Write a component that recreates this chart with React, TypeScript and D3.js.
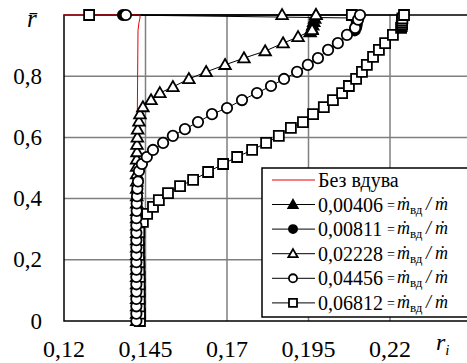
import React from "react";
import * as d3 from "d3";

// без вдува
const noBlowX = [0.1423, 0.1423, 0.1424, 0.1424, 0.1425, 0.1427, 0.1430, 0.1433, 0.1433, 0.12];
const noBlowR = [0, 0.2, 0.4, 0.6, 0.69, 0.95, 0.975, 0.99, 1.0, 1.0];

// 0,00406 (filled triangles)
const tri1X = [0.1955, 0.196, 0.1963, 0.1966, 0.1969, 0.1973];
const tri1R = [0.944, 0.955, 0.966, 0.977, 0.988, 1.0];

// 0,00811 (filled circles)
const circ1X = [0.2092, 0.2096, 0.2098, 0.2098, 0.2096, 0.1381];
const circ1R = [0.95, 0.96, 0.97, 0.98, 0.99, 1.0];

// 0,02228 (open triangles)
const tri2X = [
  0.1423, 0.1423, 0.1423, 0.1423, 0.1423, 0.1423, 0.1423, 0.1423, 0.1423, 0.1423,
  0.1423, 0.1423, 0.1423, 0.1423, 0.1423, 0.1423, 0.1423, 0.1423, 0.1423, 0.1423,
  0.1423, 0.1423, 0.1423, 0.1424, 0.1424, 0.1425, 0.1426, 0.143, 0.1433, 0.1442,
  0.1467, 0.1494, 0.1534, 0.1583, 0.1636, 0.1694, 0.1752, 0.1817, 0.1872, 0.1918,
  0.1961, 0.1973, 0.1869,
];
const tri2R = [
  0, 0.024, 0.048, 0.072, 0.096, 0.12, 0.144, 0.168, 0.192, 0.216,
  0.24, 0.264, 0.288, 0.312, 0.336, 0.36, 0.384, 0.408, 0.432, 0.456,
  0.48, 0.504, 0.528, 0.552, 0.576, 0.6, 0.626, 0.652, 0.676, 0.699,
  0.722, 0.745, 0.765, 0.791, 0.814, 0.837, 0.859, 0.882, 0.908, 0.928,
  0.951, 1.0, 1.0,
];

// 0,04456 (open circles)
const circ2X = [
  0.1422, 0.1422, 0.1422, 0.1422, 0.1422, 0.1422, 0.1422, 0.1422, 0.1422, 0.1422,
  0.1422, 0.1422, 0.1422, 0.1422, 0.1422, 0.1423, 0.1423, 0.1424, 0.1425, 0.1427,
  0.143, 0.1439, 0.1454, 0.1473, 0.1504, 0.1534, 0.1571, 0.1611, 0.1654, 0.17,
  0.1746, 0.1792, 0.1835, 0.1875, 0.1915, 0.1948, 0.1979, 0.201, 0.204, 0.2068,
  0.2093, 0.2102, 0.2108, 0.139,
];
const circ2R = [
  0, 0.024, 0.048, 0.072, 0.096, 0.12, 0.144, 0.168, 0.192, 0.216,
  0.24, 0.264, 0.288, 0.312, 0.336, 0.36, 0.384, 0.408, 0.432, 0.456,
  0.49, 0.513, 0.536, 0.559, 0.582, 0.605, 0.627, 0.65, 0.676, 0.696,
  0.722, 0.745, 0.768, 0.791, 0.814, 0.837, 0.859, 0.886, 0.908, 0.935,
  0.958, 0.985, 1.0, 1.0,
];

// 0,06812 (open squares)
const sq2X = [
  0.1433, 0.1433, 0.1432, 0.1432, 0.1432, 0.1432, 0.1432, 0.1431, 0.1431, 0.143,
  0.143, 0.143, 0.1431, 0.1442, 0.1455, 0.1473, 0.1491, 0.1519, 0.1556, 0.1596,
  0.1642, 0.1688, 0.1731, 0.1777, 0.182, 0.1859, 0.1896, 0.1933, 0.1964, 0.1997,
  0.2025, 0.2053, 0.2074, 0.2096, 0.2114, 0.2129, 0.2148, 0.2166, 0.2185, 0.2209,
  0.2234, 0.2236, 0.2237, 0.2237, 0.2237, 0.2238, 0.2243, 0.2083, 0.1277,
];
const sq2R = [
  0, 0.024, 0.048, 0.072, 0.096, 0.12, 0.144, 0.168, 0.192, 0.216,
  0.24, 0.264, 0.29, 0.324, 0.35, 0.373, 0.395, 0.418, 0.441, 0.461,
  0.487, 0.513, 0.536, 0.559, 0.582, 0.605, 0.631, 0.65, 0.676, 0.699,
  0.722, 0.745, 0.768, 0.791, 0.814, 0.837, 0.863, 0.886, 0.908, 0.935,
  0.958, 0.964, 0.970, 0.976, 0.982, 0.989, 1.0, 1.0, 1.0,
];

const xTicks = [0.12, 0.145, 0.17, 0.195, 0.22];
const xTickLabels = ["0,12", "0,145", "0,17", "0,195", "0,22"];
const yTicks = [0, 0.2, 0.4, 0.6, 0.8];
const yTickLabels = ["0", "0,2", "0,4", "0,6", "0,8"];
const legendValues = ["0,00406", "0,00811", "0,02228", "0,04456", "0,06812"];

const font = "Liberation Serif";

const zip = (xs: number[], ys: number[]) => xs.map((x, i) => [x, ys[i]] as [number, number]);

const Marker = ({ kind, x, y, big }: { kind: string; x: number; y: number; big: boolean }) => {
  const filled = kind === "triF" || kind === "circF";
  const shape = kind.startsWith("tri") ? d3.symbolTriangle : kind.startsWith("circ") ? d3.symbolCircle : d3.symbolSquare;
  const size = kind.startsWith("tri") ? (big ? 58 : 38) : kind.startsWith("circ") ? (big ? 85 : 52) : big ? 100 : 64;
  const d = d3.symbol().type(shape).size(size)();
  return (
    <path
      d={d || ""}
      transform={`translate(${x},${y + (kind.startsWith("tri") ? 0.8 : 0)})`}
      fill={filled ? "#000" : "#fff"}
      stroke="#000"
      strokeWidth={1.8}
    />
  );
};

const App = () => {
  const width = 467;
  const height = 363;
  const x = d3.scaleLinear().domain([0.12, 0.245]).range([64, 471.5]);
  const y = d3.scaleLinear().domain([0, 1]).range([321, 15]);
  const line = d3
    .line<[number, number]>()
    .x((d) => x(d[0]))
    .y((d) => y(d[1]));

  const series = [
    { kind: "triF", pts: zip(tri1X, tri1R) },
    { kind: "circF", pts: zip(circ1X, circ1R) },
    { kind: "tri", pts: zip(tri2X, tri2R) },
    { kind: "sq", pts: zip(sq2X, sq2R) },
    { kind: "circ", pts: zip(circ2X, circ2R) },
  ];
  const legendKinds = ["triF", "circF", "tri", "circ", "sq"];

  return (
    <svg width={width} height={height} style={{ position: "absolute", left: 0, top: 0, background: "#fff" }}>
      <rect width={width} height={height} fill="#fff" />
      {xTicks.slice(1).map((t) => (
        <line key={t} x1={x(t)} x2={x(t)} y1={y(0)} y2={y(1)} stroke="#7f7f7f" strokeWidth={1.5} />
      ))}
      {yTicks.slice(1).map((t) => (
        <line key={t} x1={x(0.12)} x2={x(0.245)} y1={y(t)} y2={y(t)} stroke="#7f7f7f" strokeWidth={1.5} />
      ))}
      <rect x={x(0.12)} y={y(1)} width={x(0.245) - x(0.12)} height={y(0) - y(1)} fill="none" stroke="#000" strokeWidth={1.5} />

      {series.map((s) => (
        <path key={s.kind + "l"} d={line(s.pts) || ""} fill="none" stroke="#000" strokeWidth={1} />
      ))}
      <path d={line(zip(noBlowX, noBlowR)) || ""} fill="none" stroke="#e8000b" strokeWidth={1} />
      {series.map((s) =>
        s.pts.map((p, i) => <Marker key={s.kind + i} kind={s.kind} x={x(p[0])} y={y(p[1])} big={true} />)
      )}

      {xTicks.map((t, i) => (
        <text key={t} x={x(t)} y={357} textAnchor="middle" style={{ fontFamily: font }} fontSize={24}>
          {xTickLabels[i]}
        </text>
      ))}
      {yTicks.map((t, i) => (
        <text key={t} x={42} y={y(t) + 7.5} textAnchor="end" style={{ fontFamily: font }} fontSize={23}>
          {yTickLabels[i]}
        </text>
      ))}
      <text x={27} y={27} style={{ fontFamily: font }} fontSize={25} fontStyle="italic">
        r̄
      </text>
      <text x={436} y={350} style={{ fontFamily: font }} fontSize={24} fontStyle="italic">
        r<tspan fontSize={15} dy={5}>i</tspan>
      </text>

      <g style={{ fontFamily: font }}>
        <rect x={262} y={168} width={215} height={149} fill="#fff" stroke="#000" strokeWidth={1.5} />
        <line x1={272} x2={315} y1={180} y2={180} stroke="#e8000b" strokeWidth={1} />
        <text x={318} y={187} fontSize={20}>
          Без вдува
        </text>
        {legendValues.map((v, i) => {
          const ly = 204.5 + i * 24.6;
          return (
            <g key={v}>
              <line x1={272} x2={315} y1={ly} y2={ly} stroke="#000" strokeWidth={1} />
              <Marker kind={legendKinds[i]} x={293} y={ly} big={false} />
              <text x={318} y={ly + 7} fontSize={20}>
                {v}
              </text>
              <text x={387} y={ly + 5} fontSize={14}>
                =
              </text>
              <text x={397} y={ly + 5} fontSize={18} fontStyle="italic">
                ṁ
              </text>
              <text x={410} y={ly + 9} fontSize={13}>
                вд
              </text>
              <text x={426} y={ly + 5} fontSize={18} fontStyle="italic">
                /
              </text>
              <text x={435} y={ly + 5} fontSize={18} fontStyle="italic">
                ṁ
              </text>
            </g>
          );
        })}
      </g>
    </svg>
  );
};

export default App;
